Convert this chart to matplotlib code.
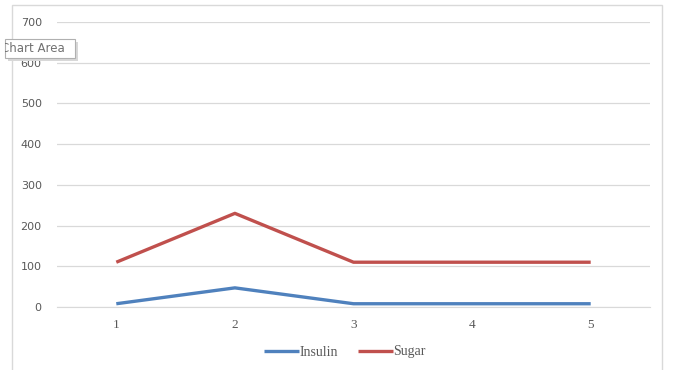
import matplotlib
matplotlib.use("Agg")
import matplotlib.pyplot as plt
from matplotlib.patches import Rectangle

categories = [1, 2, 3, 4, 5]
insulin = [8, 47, 8, 8, 8]
sugar = [110, 230, 110, 110, 110]
y_ticks = [0, 100, 200, 300, 400, 500, 600, 700]

W, H = 673, 370
fig = plt.figure(figsize=(W / 100, H / 100), dpi=100)
fig.patch.set_facecolor("white")

# chart area border
fig.add_artist(Rectangle((12 / W, -0.05), 650 / W, 1 - 5 / H + 0.05, transform=fig.transFigure,
                         fill=False, edgecolor="#d9d9d9", linewidth=1))

ax = fig.add_axes([57 / W, 1 - 307 / H, 593 / W, 285 / H])
ax.plot(categories, insulin, color="#4f81bd", linewidth=2.4, label="Insulin", solid_capstyle="butt")
ax.plot(categories, sugar, color="#c0504d", linewidth=2.4, label="Sugar", solid_capstyle="butt")

ax.set_xlim(0.5, 5.5)
ax.set_ylim(0, 700)
ax.set_yticks(y_ticks)
ax.set_xticks(categories)
ax.grid(axis="y", color="#d9d9d9", linewidth=0.9)
ax.set_axisbelow(True)
for s in ["top", "right", "left"]:
    ax.spines[s].set_visible(False)
ax.spines["bottom"].set_color("#d9d9d9")
ax.tick_params(length=0)
ax.tick_params(axis="y", pad=11)
ax.tick_params(axis="x", pad=9)
for lbl in ax.get_yticklabels():
    lbl.set_fontfamily("DejaVu Sans")
    lbl.set_fontsize(8)
    lbl.set_color("#595959")
for lbl in ax.get_xticklabels():
    lbl.set_fontfamily("Liberation Serif")
    lbl.set_fontsize(9.5)
    lbl.set_color("#595959")

leg = fig.legend(loc="center", bbox_to_anchor=(345 / W, 1 - 352 / H), ncol=2, frameon=False,
                 prop={"family": "Liberation Serif", "size": 10}, handlelength=2.5,
                 handletextpad=0.05, columnspacing=1.4)
for t in leg.get_texts():
    t.set_color("#595959")

# "Chart Area" tooltip
shadow = Rectangle((8 / W, 1 - 61 / H), 70 / W, 19 / H, transform=fig.transFigure,
                   facecolor="#d8d8d8", edgecolor="none", zorder=9)
tip = Rectangle((5 / W, 1 - 58 / H), 70 / W, 19 / H, transform=fig.transFigure,
                facecolor="#ffffff", edgecolor="#b0b0b0", linewidth=0.8, zorder=10)
fig.add_artist(shadow)
fig.add_artist(tip)
txt = fig.text(1 / W, 1 - 48 / H, "Chart Area", fontsize=8.5, color="#707070", va="center", ha="left",
               family="DejaVu Sans", zorder=11)
txt.set_clip_path(tip)

fig.savefig("out.png", dpi=100)
